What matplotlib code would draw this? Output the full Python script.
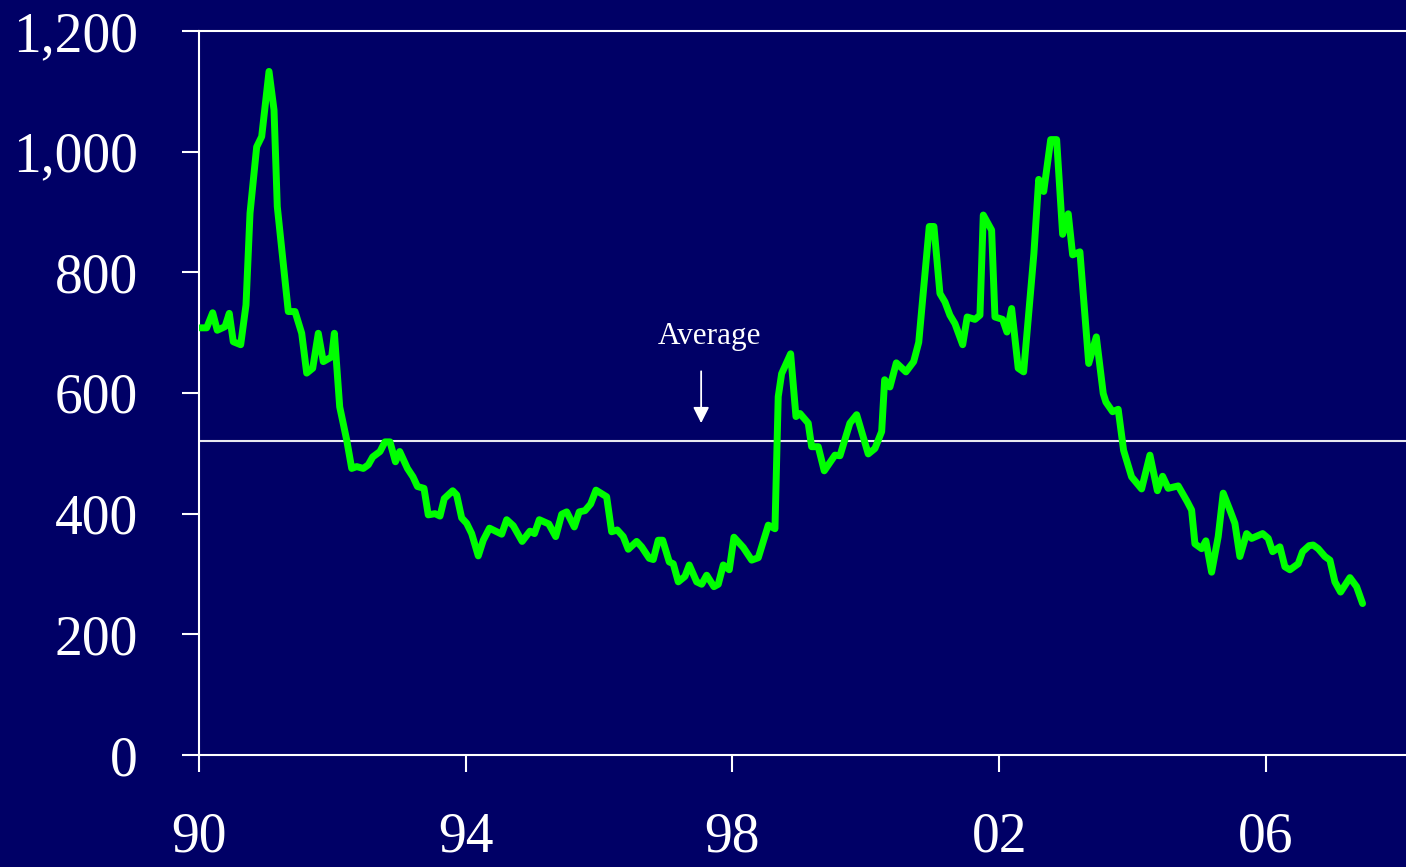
import matplotlib
matplotlib.use("Agg")
import matplotlib.pyplot as plt

# Leitura aproximada da série (anos decimais e valores)
anos = [
    1990.015, 1990.115, 1990.205, 1990.274, 1990.39, 1990.454, 1990.514, 1990.625,
    1990.705, 1990.765, 1990.865, 1990.94, 1991.05, 1991.125, 1991.174, 1991.339,
    1991.44, 1991.54, 1991.615, 1991.705, 1991.789, 1991.864, 1991.99, 1992.03,
    1992.11, 1992.215, 1992.29, 1992.365, 1992.464, 1992.539, 1992.605, 1992.714,
    1992.789, 1992.864, 1992.946, 1993.01, 1993.126, 1993.209, 1993.276, 1993.374,
    1993.438, 1993.539, 1993.614, 1993.678, 1993.804, 1993.864, 1993.939, 1994.014,
    1994.089, 1994.188, 1994.263, 1994.356, 1994.539, 1994.614, 1994.713, 1994.846,
    1994.963, 1995.031, 1995.103, 1995.245, 1995.349, 1995.439, 1995.514, 1995.628,
    1995.702, 1995.788, 1995.873, 1995.953, 1996.113, 1996.188, 1996.272, 1996.362,
    1996.437, 1996.563, 1996.638, 1996.752, 1996.812, 1996.887, 1996.953, 1997.052,
    1997.112, 1997.187, 1997.287, 1997.352, 1997.463, 1997.538, 1997.613, 1997.722,
    1997.787, 1997.862, 1997.952, 1998.022, 1998.162, 1998.288, 1998.387, 1998.537,
    1998.637, 1998.686, 1998.737, 1998.872, 1998.952, 1999.012, 1999.136, 1999.187,
    1999.286, 1999.376, 1999.537, 1999.612, 1999.761, 1999.862, 2000.036, 2000.136,
    2000.237, 2000.282, 2000.361, 2000.457, 2000.601, 2000.717, 2000.793, 2000.951,
    2001.021, 2001.111, 2001.186, 2001.261, 2001.336, 2001.452, 2001.52, 2001.636,
    2001.711, 2001.761, 2001.886, 2001.936, 2002.051, 2002.116, 2002.186, 2002.285,
    2002.366, 2002.52, 2002.592, 2002.667, 2002.772, 2002.861, 2002.951, 2003.035,
    2003.101, 2003.21, 2003.342, 2003.456, 2003.56, 2003.6, 2003.7, 2003.784,
    2003.865, 2003.985, 2004.135, 2004.26, 2004.372, 2004.45, 2004.534, 2004.684,
    2004.819, 2004.885, 2004.935, 2005.035, 2005.099, 2005.185, 2005.284, 2005.359,
    2005.459, 2005.534, 2005.609, 2005.71, 2005.785, 2005.95, 2006.034, 2006.1,
    2006.209, 2006.284, 2006.359, 2006.484, 2006.549, 2006.648, 2006.708, 2006.783,
    2006.884, 2006.959, 2007.034, 2007.119, 2007.259, 2007.359, 2007.449,
]
valores = [
    708, 708, 733, 704, 710, 732, 685, 680,
    746, 898, 1008, 1025, 1133, 1069, 909, 735,
    735, 699, 633, 641, 699, 652, 660, 699,
    577, 522, 475, 478, 475, 481, 494, 503,
    519, 519, 486, 503, 475, 461, 445, 442,
    398, 400, 396, 425, 438, 431, 393, 384,
    367, 330, 356, 376, 366, 390, 380, 354,
    371, 367, 390, 383, 362, 399, 403, 378,
    403, 405, 416, 439, 428, 370, 373, 362,
    341, 354, 345, 326, 324, 356, 356, 320,
    317, 287, 296, 315, 287, 283, 298, 279,
    283, 315, 307, 361, 344, 323, 327, 381,
    375, 594, 632, 665, 561, 566, 550, 511,
    511, 471, 497, 496, 550, 564, 499, 508,
    536, 622, 610, 650, 635, 652, 684, 876,
    876, 765, 751, 729, 715, 680, 726, 722,
    729, 895, 870, 726, 722, 701, 740, 641,
    635, 831, 954, 934, 1020, 1020, 863, 897,
    829, 834, 649, 693, 599, 585, 569, 573,
    505, 461, 441, 497, 438, 462, 442, 446,
    420, 406, 350, 342, 355, 303, 362, 434,
    406, 384, 329, 367, 359, 367, 359, 337,
    345, 312, 307, 317, 337, 347, 348, 342,
    329, 323, 287, 270, 294, 279, 251,
]
media = 520
ticks_x = [1990, 1994, 1998, 2002, 2006]
rotulos_x = ["90", "94", "98", "02", "06"]
ticks_y = [0, 200, 400, 600, 800, 1000, 1200]

FUNDO = "#000066"
plt.rcParams["font.family"] = ["Liberation Serif", "DejaVu Serif"]

fig = plt.figure(figsize=(14.06, 8.67), dpi=100, facecolor=FUNDO)
ax = fig.add_axes([199 / 1406, 1 - 755 / 867, 1 - 199 / 1406, (755 - 31) / 867])
ax.set_facecolor(FUNDO)

ax.plot(anos, valores, color="#00ff00", lw=5, solid_joinstyle="round",
        solid_capstyle="round", zorder=3)
ax.axhline(media, color="#e8e8f0", lw=1.5, zorder=2)

# Anotação da média
ax.annotate("", xy=(1997.53, 550), xytext=(1997.53, 636),
            arrowprops=dict(arrowstyle="-|>", color="white", lw=1.3,
                            mutation_scale=24, shrinkA=0, shrinkB=0))
ax.text(1997.66, 693, "Average", color="white", fontsize=22.5,
        ha="center", va="center")

ax.set_xlim(1990, 2008.1)
ax.set_ylim(0, 1200)
ax.set_xticks(ticks_x)
ax.set_xticklabels(rotulos_x)
ax.set_yticks(ticks_y)
ax.set_yticklabels([f"{v:,}" for v in ticks_y])

for lado in ["left", "bottom", "top"]:
    ax.spines[lado].set_color("white")
    ax.spines[lado].set_linewidth(1.5)
ax.spines["right"].set_visible(False)

ax.tick_params(axis="both", colors="white", labelcolor="white", labelsize=40,
               length=12, width=1.5, direction="out")
ax.tick_params(axis="y", pad=32)
ax.tick_params(axis="x", pad=29)

fig.savefig("out.png", dpi=100, facecolor=FUNDO)
